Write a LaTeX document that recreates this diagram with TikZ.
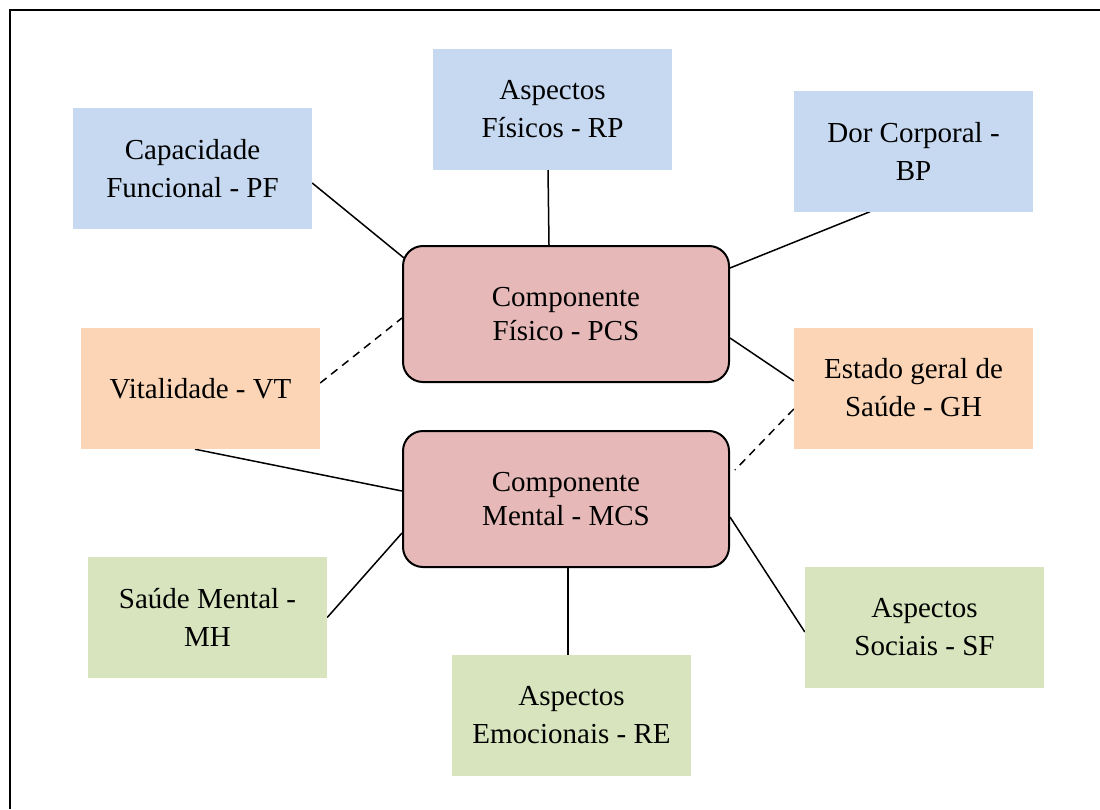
\documentclass[tikz,border=0pt]{standalone}
\usepackage{fontspec}
\setmainfont{Liberation Serif}
\usetikzlibrary{backgrounds}
\pgfdeclarelayer{bottom}
\pgfdeclarelayer{background}
\pgfsetlayers{bottom,background,main}
\definecolor{boxblue}{HTML}{C6D9F1}
\definecolor{boxorange}{HTML}{FBD5B5}
\definecolor{boxgreen}{HTML}{D7E4BD}
\definecolor{boxpink}{HTML}{E6B9B8}
\begin{document}
\begin{tikzpicture}[x=1pt,y=-1pt,
  outerbox/.style={rectangle, inner sep=0pt, minimum width=239pt, minimum height=121pt, align=center,
     font=\rmfamily\fontsize{29}{38}\selectfont},
  centralbox/.style={rectangle, rounded corners=20pt, draw=black, line width=2pt, fill=boxpink,
     inner sep=0pt, minimum width=326pt, minimum height=136pt, align=center,
     font=\rmfamily\fontsize{29}{33.5}\selectfont},
  link/.style={line width=1.5pt, black},
  dashlink/.style={line width=1.5pt, black, dash pattern=on 8pt off 6pt}]
\useasboundingbox (0,0) rectangle (1100,809);
\begin{pgfonlayer}{bottom}
\fill[white] (0,0) rectangle (1100,809);
\end{pgfonlayer}
\draw[line width=2.2pt] (10,809) -- (10,10) -- (1100,10);

\node[outerbox, fill=boxblue] (pf) at (192.5,168.5) {Capacidade\\Funcional - PF};
\node[outerbox, fill=boxblue] (rp) at (552.5,109) {Aspectos\\Físicos - RP};
\node[outerbox, fill=boxblue] (bp) at (913.5,151) {Dor Corporal -\\BP};
\node[outerbox, fill=boxorange] (vt) at (200.5,388.5) {Vitalidade - VT};
\node[outerbox, fill=boxorange] (gh) at (913.5,388) {Estado geral de\\Saúde - GH};
\node[outerbox, fill=boxgreen] (mh) at (207.5,617.5) {Saúde Mental -\\MH};
\node[outerbox, fill=boxgreen] (re) at (571.5,715.5) {Aspectos\\Emocionais - RE};
\node[outerbox, fill=boxgreen] (sf) at (924.5,627) {Aspectos\\Sociais - SF};

\node[centralbox] (pcs) at (566,314) {Componente\\Físico - PCS};
\node[centralbox] (mcs) at (566,499) {Componente\\Mental - MCS};

\begin{pgfonlayer}{background}
\draw[link] ([yshift=-14.5pt]pf.east) -- ([xshift=2pt,yshift=56pt]pcs.west);
\draw[link] ([xshift=-4.5pt]rp.south) -- ([xshift=-17pt]pcs.north);
\draw[link] ([xshift=-43.5pt]bp.south) -- ([yshift=46pt]pcs.east);
\draw[dashlink] ([yshift=5.5pt]vt.east) -- ([yshift=-4pt]pcs.west);
\draw[link] ([yshift=7pt]gh.west) -- ([yshift=-24pt]pcs.east);
\draw[dashlink] ([yshift=-21pt]gh.west) -- ([xshift=5pt,yshift=29pt]mcs.east);
\draw[link] ([xshift=-5.5pt]vt.south) -- ([yshift=8pt]mcs.west);
\draw[link] (mh.east) -- ([yshift=-34pt]mcs.west);
\draw[link] ([xshift=-3.5pt]re.north) -- ([xshift=2pt]mcs.south);
\draw[link] ([yshift=-5pt]sf.west) -- ([yshift=-18pt]mcs.east);
\end{pgfonlayer}
\end{tikzpicture}
\end{document}
